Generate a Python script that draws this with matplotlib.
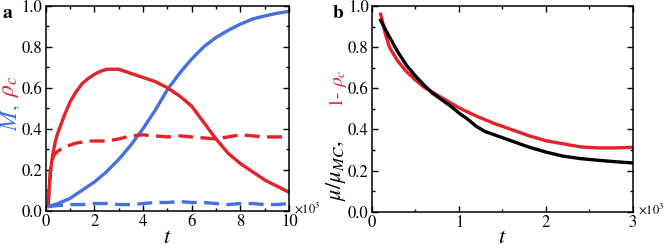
import numpy as np
import matplotlib.pyplot as plt

# panel a (t in units of 10^3)
t_a = [0.1, 0.5, 1.0, 1.5, 2.0, 2.5, 3.0, 3.5, 4.0, 4.5, 5.0, 5.5, 6.0,
       6.5, 7.0, 7.5, 8.0, 8.5, 9.0, 9.5, 10.0]
M_solid = [0.02, 0.035, 0.06, 0.10, 0.14, 0.19, 0.25, 0.32, 0.40, 0.49, 0.59,
           0.67, 0.74, 0.80, 0.845, 0.88, 0.91, 0.935, 0.95, 0.963, 0.972]
t_rho = [0.1, 0.15, 0.2, 0.3, 0.4, 0.5, 0.75, 1.0, 1.25, 1.5, 1.75, 2.0, 2.25,
         2.5, 3.0, 3.5, 4.0, 4.5, 5.0, 5.5, 6.0, 6.5, 7.0, 7.5, 8.0, 8.5,
         9.0, 9.5, 10.0]
rho_solid = [0.03, 0.12, 0.20, 0.28, 0.34, 0.38, 0.46, 0.53, 0.58, 0.62, 0.645,
             0.665, 0.68, 0.69, 0.69, 0.67, 0.65, 0.63, 0.60, 0.56, 0.51, 0.43,
             0.35, 0.28, 0.23, 0.19, 0.15, 0.12, 0.09]
rho_dash = [0.03, 0.12, 0.20, 0.26, 0.28, 0.29, 0.31, 0.32, 0.33, 0.335, 0.34,
            0.34, 0.34, 0.34, 0.35, 0.365, 0.37, 0.365, 0.36, 0.365, 0.36,
            0.355, 0.35, 0.36, 0.37, 0.365, 0.36, 0.36, 0.36]
M_dash = [0.02, 0.025, 0.03, 0.03, 0.035, 0.035, 0.03, 0.03, 0.035, 0.04, 0.04,
          0.045, 0.04, 0.04, 0.035, 0.03, 0.035, 0.035, 0.03, 0.03, 0.035]

# panel b
t_b = [0.1, 0.2, 0.3, 0.4, 0.5, 0.6, 0.7, 0.8, 0.9, 1.0, 1.1, 1.2, 1.3, 1.4,
       1.6, 1.8, 2.0, 2.2, 2.4, 2.6, 2.8, 3.0]
mu_ratio = [0.93, 0.85, 0.775, 0.71, 0.66, 0.615, 0.575, 0.545, 0.515, 0.48,
            0.45, 0.415, 0.39, 0.375, 0.345, 0.315, 0.29, 0.27, 0.258, 0.25,
            0.243, 0.237]
t_b2 = [0.1, 0.15, 0.2, 0.3, 0.4, 0.5, 0.6, 0.7, 0.8, 0.9, 1.0, 1.2, 1.4, 1.6,
        1.8, 2.0, 2.2, 2.4, 2.6, 2.8, 3.0]
one_minus_rho = [0.96, 0.87, 0.80, 0.73, 0.68, 0.64, 0.605, 0.58, 0.555, 0.53,
                 0.505, 0.465, 0.43, 0.40, 0.37, 0.345, 0.33, 0.315, 0.31,
                 0.31, 0.313]

BLUE = '#4670de'
RED = '#e4222a'

plt.rcParams['font.family'] = 'serif'
plt.rcParams['font.serif'] = ['STIXGeneral', 'Liberation Serif', 'DejaVu Serif']
plt.rcParams['mathtext.fontset'] = 'stix'


def style_axes(ax):
    for s in ax.spines.values():
        s.set_linewidth(1.1)
    ax.tick_params(which='both', direction='in', top=True, right=True,
                   labelsize=12, width=1.0, pad=2.5)
    ax.tick_params(which='major', length=4)
    ax.tick_params(which='minor', length=2.5)
    ax.text(1.02, 0.01, r'$\times10^3$', transform=ax.transAxes,
            ha='left', va='center', fontsize=9)
    ax.set_yticks(np.arange(0, 1.01, 0.2))
    ax.set_yticks(np.arange(0.1, 1.0, 0.2), minor=True)
    ax.set_yticklabels(['0.0', '0.2', '0.4', '0.6', '0.8', '1.0'])
    ax.set_ylim(0, 1)


def main():
    fig = plt.figure(figsize=(6.65, 2.48), dpi=100)

    # panel a
    ax1 = fig.add_axes([0.0687, 0.1504, 0.3659, 0.8266])
    ax1.plot(t_a, M_solid, color=BLUE, lw=2.4)
    ax1.plot(t_rho, rho_solid, color=RED, lw=2.4)
    ax1.plot(t_rho, rho_dash, color=RED, lw=2.4, dashes=(4.5, 2.2))
    ax1.plot(t_a, M_dash, color=BLUE, lw=2.4, dashes=(4.5, 2.2))
    ax1.set_xlim(0, 10)
    ax1.set_xticks(np.arange(0, 11, 2))
    ax1.set_xticks(np.arange(1, 10, 2), minor=True)
    style_axes(ax1)

    # panel b
    ax2 = fig.add_axes([0.5594, 0.1464, 0.392, 0.8294])
    ax2.plot(t_b2, one_minus_rho, color=RED, lw=2.4)
    ax2.plot(t_b, mu_ratio, color='black', lw=2.4)
    ax2.set_xlim(0, 3)
    ax2.set_xticks([0, 1, 2, 3])
    ax2.set_xticks([0.5, 1.5, 2.5], minor=True)
    style_axes(ax2)

    H = 248.0
    # x labels
    fig.text(167 / 665, 1 - 238 / H, r'$t$', fontsize=16,
             ha='center', va='center')
    fig.text(502 / 665, 1 - 238 / H, r'$t$', fontsize=16,
             ha='center', va='center')

    # y labels in two colours
    fig.text(0.016, 1 - 131 / H, r'$M$,', color=BLUE, rotation=90,
             ha='center', va='bottom', fontsize=17)
    fig.text(0.016, 1 - 97 / H, r'$\rho_c$', color=RED, rotation=90,
             ha='center', va='bottom', fontsize=17)
    fig.text(0.505, 1 - 201 / H, r'$\mu/\mu_{MC}$,', color='black',
             rotation=90, ha='center', va='bottom', fontsize=16)
    fig.text(0.508, 1 - 108 / H, r'1- $\rho_c$', color=RED,
             rotation=90, ha='center', va='bottom', fontsize=14)

    # panel letters
    fig.text(0.004, 1 - 13 / H, 'a', fontsize=14, fontweight='bold',
             ha='left', va='center')
    fig.text(0.500, 1 - 14 / H, 'b', fontsize=14, fontweight='bold',
             ha='left', va='center')

    fig.savefig('out.png', dpi=100)


if __name__ == '__main__':
    main()
